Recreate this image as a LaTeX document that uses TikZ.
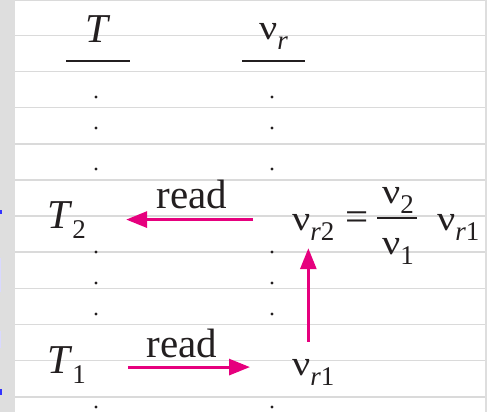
\documentclass[tikz,border=0pt]{standalone}
\usepackage{fontspec}
\setmainfont{Liberation Serif}
\usetikzlibrary{arrows.meta}

\definecolor{readpink}{RGB}{230,0,126}
\definecolor{rulegray}{RGB}{218,218,218}
\definecolor{stripgray}{RGB}{222,222,222}
\definecolor{inkgray}{RGB}{35,31,32}

\newcommand{\vsym}{\scalebox{1.15}[1]{\fontsize{35}{35}\selectfont ν}}
\newcommand{\lowsub}[1]{\raisebox{-10pt}{\fontsize{27}{27}\selectfont #1}}

\begin{document}
\begin{tikzpicture}[x=1pt,y=-1pt,
    every node/.style={inner sep=0pt, text=inkgray, font=\fontsize{41}{48}\selectfont},
    gridline/.style={rulegray, line width=1.5pt},
    headrule/.style={inkgray, line width=1.2pt},
    fracbar/.style={inkgray, line width=2pt},
    readarr/.style={readpink, line width=3pt, -{Triangle[length=21pt,width=16pt]}}]
    \useasboundingbox (0,0) rectangle (487,412);

    % page strips and ruling
    \fill[stripgray] (0,0) rectangle (15,412);
    \fill[stripgray] (485,0) rectangle (487,412);
    \fill[blue!80] (0,210) rectangle (1.5,214);
    \fill[blue!15] (0,258) rectangle (1.2,292);
    \fill[blue!15] (0,331) rectangle (1.2,348);
    \fill[blue!80] (0,389) rectangle (1.5,395);
    \draw[gridline] (15,0.75) -- (485,0.75);
    \foreach \k in {0,...,10}
        \draw[gridline] (15,35.3+36.15*\k) -- (485,35.3+36.15*\k);

    % column heads
    \node[anchor=base] (hT) at (98,43) {\textit{T}};
    \node[anchor=base west] (hV) at (259,40) {\vsym\lowsub{\textit{r}}};
    \draw[headrule] (66,61) -- (130,61);
    \draw[headrule] (242,61) -- (305,61);

    \foreach \y in {97,128,169,252,283,314,407} {
        \fill[inkgray] (96,\y) circle (1.7);
        \fill[inkgray] (272,\y) circle (1.7);
    }

    % rows
    \node[anchor=base west] (Ttwo) at (47,228) {\textit{T}\lowsub{2}};
    \node[anchor=base west] (vrtwo) at (292,230) {\vsym\lowsub{\textit{r}2}};
    \node[anchor=base west] (eqsign) at (345,230) {=};
    \node[anchor=base west] (numv) at (382,203) {\vsym\lowsub{2}};
    \draw[fracbar] (377,218) -- (417,218);
    \node[anchor=base west] (denv) at (382,254) {\vsym\lowsub{1}};
    \node[anchor=base west] (vrthree) at (437,230) {\vsym\lowsub{\textit{r}1}};
    \node[anchor=base west] (Tone) at (47,373) {\textit{T}\lowsub{1}};
    \node[anchor=base west] (vrone) at (292,375) {\vsym\lowsub{\textit{r}1}};
    \node[anchor=base] (readup) at (192,208) {read};
    \node[anchor=base] (readlow) at (182,357) {read};

    \draw[readarr, shorten <=39pt, shorten >=40pt] (vrtwo.west |- Ttwo.east) -- (Ttwo.east);
    \draw[readarr, transform canvas={yshift=-2.5pt}, shorten <=42pt, shorten >=42pt]
        (Tone.east) -- (Tone.east -| vrone.west);
    \draw[readarr, transform canvas={xshift=-5pt}, shorten <=17pt, shorten >=8pt]
        (vrone.north) -- (vrone.north |- vrtwo.south);
\end{tikzpicture}
\end{document}
